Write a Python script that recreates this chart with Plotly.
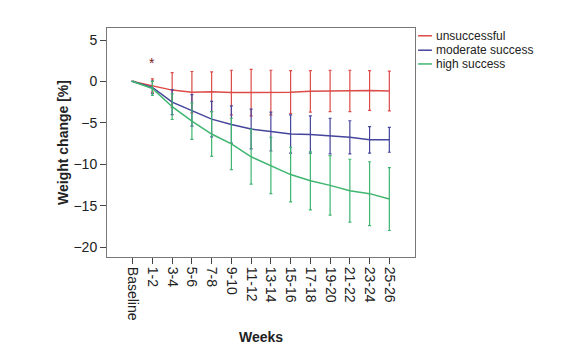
import plotly.graph_objects as go

weeks = ["Baseline", "1-2", "3-4", "5-6", "7-8", "9-10", "11-12", "13-14",
         "15-16", "17-18", "19-20", "21-22", "23-24", "25-26"]

unsucc = [0, -0.5, -1.05, -1.3, -1.25, -1.35, -1.35, -1.35, -1.3, -1.2, -1.15, -1.15, -1.1, -1.15]
unsucc_err = [0, 0.8, 2.1, 2.5, 2.4, 2.7, 2.8, 2.7, 2.6, 2.5, 2.5, 2.5, 2.4, 2.4]

moder = [0, -0.72, -2.5, -3.5, -4.55, -5.2, -5.75, -6.05, -6.35, -6.4, -6.6, -6.75, -7.05, -7.05]
moder_err = [0, 0.75, 1.5, 1.9, 2.15, 2.25, 2.4, 2.35, 2.3, 2.25, 2.15, 2.0, 1.6, 1.5]

high = [0, -0.85, -3.05, -4.8, -6.35, -7.55, -9.1, -10.15, -11.25, -12.0, -12.55, -13.2, -13.55, -14.2]
high_err = [0, 0.85, 1.55, 2.2, 2.7, 3.1, 3.3, 3.4, 3.3, 3.5, 3.6, 3.8, 3.85, 3.8]

names = ["unsuccessful", "moderate success", "high success"]
colors = ["#dc4b48", "#45459c", "#3fb56f"]
series = [(unsucc, unsucc_err), (moder, moder_err), (high, high_err)]

FONT = "Arial, Liberation Sans, sans-serif"

fig = go.Figure()
for (vals, errs), name, col in zip(series, names, colors):
    fig.add_trace(go.Scatter(
        x=weeks, y=vals, mode="lines", name=name,
        line=dict(color=col, width=1.5),
        error_y=dict(type="data", array=errs, visible=True, color=col,
                     thickness=1.2, width=1.5),
        showlegend=False,
    ))

# significance star
fig.add_annotation(x="1-2", y=2.2, text="*", showarrow=False,
                   font=dict(family=FONT, size=14, color="#7a1a1a"))

# manual legend outside the plot
leg_y = [0.966, 0.903, 0.843]
for name, col, yy in zip(names, colors, leg_y):
    fig.add_shape(type="line", xref="paper", yref="paper",
                  x0=1.010, x1=1.055, y0=yy, y1=yy,
                  line=dict(color=col, width=1.5))
    fig.add_annotation(xref="paper", yref="paper", x=1.062, y=yy,
                       xanchor="left", yanchor="middle", text=name,
                       showarrow=False,
                       font=dict(family=FONT, size=12, color="#222222"))

fig.update_layout(
    width=580, height=359,
    margin=dict(l=107, r=165, t=28, b=102),
    paper_bgcolor="white", plot_bgcolor="white",
    font=dict(family=FONT, size=14, color="#222222"),
    showlegend=False,
)
fig.update_xaxes(
    type="category", range=[-1.3, 14.3], automargin=False,
    tickangle=90, ticks="outside", ticklen=6, tickcolor="#444444",
    showline=True, linecolor="#777777", linewidth=1, mirror=True,
    showgrid=False, zeroline=False,
    tickfont=dict(family=FONT, size=14, color="#222222"),
    title=dict(text="<b>Weeks</b>", font=dict(family=FONT, size=14), standoff=12),
)
fig.update_yaxes(
    range=[-21.2, 6.45], tickvals=[5, 0, -5, -10, -15, -20], automargin=False,
    ticks="outside", ticklen=6, tickcolor="#444444",
    showline=True, linecolor="#777777", linewidth=1, mirror=True,
    showgrid=False, zeroline=False,
    tickfont=dict(family=FONT, size=14, color="#222222"),
    title=dict(text="<b>Weight change [%]</b>", font=dict(family=FONT, size=14), standoff=1),
)

fig.write_html("out.html", config={"displayModeBar": False},
               post_script="document.body.style.margin='0';")
